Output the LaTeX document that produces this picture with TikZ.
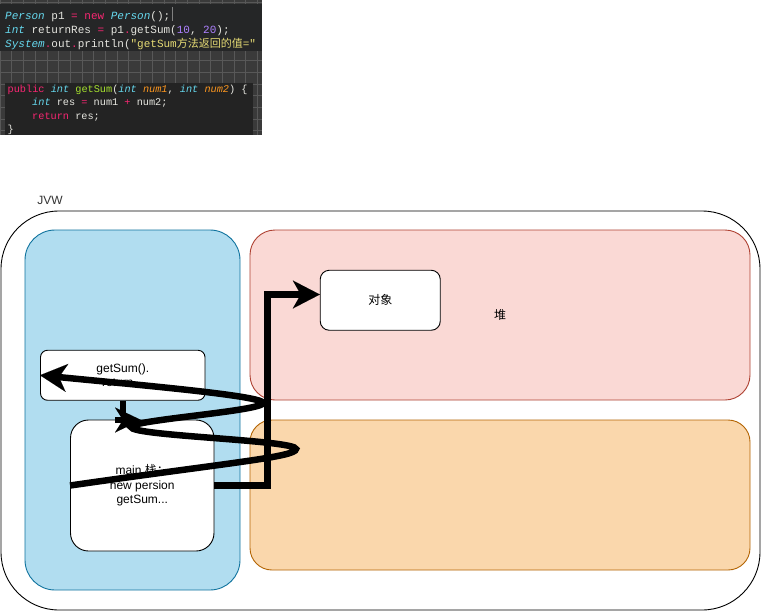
\documentclass[tikz,border=0pt]{standalone}
\usepackage{fontspec}
\setmainfont{Liberation Sans}
\newfontfamily\cjk{Noto Sans CJK SC}
\newfontfamily\codef{Liberation Mono}
\usetikzlibrary{arrows.meta}
\definecolor{bfill}{HTML}{B1DDF0}
\definecolor{bstroke}{HTML}{10739E}
\definecolor{rfill}{HTML}{FAD9D5}
\definecolor{rstroke}{HTML}{AE4132}
\definecolor{ofill}{HTML}{FAD7AC}
\definecolor{ostroke}{HTML}{B46504}
\definecolor{txtgray}{HTML}{333333}
\definecolor{gridbg}{HTML}{3A3A3A}
\definecolor{gridln}{HTML}{585858}
\definecolor{codebg}{HTML}{252627}
\definecolor{codebgb}{HTML}{232323}
\definecolor{mpink}{HTML}{F92672}
\definecolor{mcyan}{HTML}{66D9EF}
\definecolor{mgreen}{HTML}{A6E22E}
\definecolor{morange}{HTML}{FD971F}
\definecolor{mpurple}{HTML}{AE81FF}
\definecolor{myellow}{HTML}{E6DB74}
\definecolor{mfg}{HTML}{E6E6E0}
\newcommand\mkw[1]{\textcolor{mpink}{#1}}
\newcommand\mty[1]{\textcolor{mcyan}{\itshape #1}}
\newcommand\mfn[1]{\textcolor{mgreen}{#1}}
\newcommand\marg[1]{\textcolor{morange}{\itshape #1}}
\newcommand\mnum[1]{\textcolor{mpurple}{#1}}
\newcommand\mstr[1]{\textcolor{myellow}{#1}}
\tikzset{
  rbox/.style={draw, inner sep=0pt, line width=0.9pt},
  lbl/.style={font=\fontsize{12}{14.5}\selectfont, text=black},
  codeA/.style={anchor=base west, inner sep=0pt, text=mfg, font=\codef\fontsize{11}{13}\selectfont},
  codeB/.style={anchor=base west, inner sep=0pt, text=mfg, font=\codef\fontsize{10.25}{12}\selectfont},
  bigline/.style={line width=6.5pt, draw=black},
  headbig/.style={-{Stealth[length=27pt,width=28pt,inset=8pt,line width=0.01pt]}},
  headsmall/.style={-{Stealth[length=26pt,width=25pt,inset=8pt,line width=0.01pt]}}
}
\begin{document}
\begin{tikzpicture}[x=1pt,y=-1pt]
\useasboundingbox (0,0) rectangle (761,611);
\fill[white] (0,0) rectangle (761,611);
% code screenshot
\begin{scope}
\clip (0,0) rectangle (262,135);
\fill[gridbg] (0,0) rectangle (262,135);
\foreach \gx in {0,11.7,...,262} {\draw[gridln, line width=0.6pt] (\gx,0) -- (\gx,135);}
\foreach \gy in {2,13.7,...,135} {\draw[gridln, line width=0.6pt] (0,\gy) -- (262,\gy);}
\fill[codebg] (0,4) rectangle (262,51);
\fill[codebgb] (5,83) rectangle (253,135);
\node[codeA] (c1) at (5,19) {\mty{Person} p1 \mkw{=} \mkw{new} \mty{Person}();};
\draw[gray, line width=0.7pt] (172.5,7) -- (172.5,21);
\node[codeA] (c2) at (5,33) {\mty{int} returnRes \mkw{=} p1\mkw{.}getSum(\mnum{10}, \mnum{20});};
\node[codeA] (c3) at (5,47) {\mty{System}\mkw{.}out\mkw{.}println(\mstr{"getSum{\cjk 方法返回的值}="}};
\node[codeB] (d1) at (7.5,92) {\mkw{public} \mty{int} \mfn{getSum}(\mty{int} \marg{num1}, \mty{int} \marg{num2}) \{};
\node[codeB] (d2) at (32,105.5) {\mty{int} res \mkw{=} num1 \mkw{+} num2;};
\node[codeB] (d3) at (32,119) {\mkw{return} res;};
\node[codeB] (d4) at (7.5,132.5) {\}};
\end{scope}
% JVW diagram
\node[rbox, draw=black, rounded corners=58pt, minimum width=759pt, minimum height=399pt] (jvm) at (380.5,410.5) {};
\node[lbl, text=txtgray] (jvwlabel) at (50,200) {JVW};
\node[rbox, draw=bstroke, fill=bfill, rounded corners=30pt, minimum width=215pt, minimum height=360pt] (stack) at (132.5,410) {};
\node[rbox, draw=rstroke, fill=rfill, rounded corners=25pt, minimum width=500pt, minimum height=170pt, lbl] (heap) at (500,315) {{\cjk 堆}};
\node[rbox, draw=ostroke, fill=ofill, rounded corners=22pt, minimum width=500pt, minimum height=150pt] (other) at (500,495) {};
\node[rbox, fill=white, rounded corners=7pt, minimum width=164.5pt, minimum height=50pt, lbl, align=center] (gs) at (122.75,375.25) {getSum().\\return...};
\node[rbox, fill=white, rounded corners=18pt, minimum width=143.5pt, minimum height=131pt, lbl, align=center] (main) at (142.25,485.5) {main {\cjk 栈：}\\new persion\\getSum...};
\node[rbox, fill=white, rounded corners=9pt, minimum width=120pt, minimum height=60pt, lbl] (obj) at (380.25,300.25) {{\cjk 对象}};
% connectors
\draw[bigline, headbig] (main.east) -- ([xshift=53pt]main.east) |- ([yshift=5.75pt]obj.west);
\draw[bigline, headbig] (main.west) .. controls +(160,-23) and (296,457) .. (296,449)
   .. controls (296,440) and (131,436) .. (131,427)
   .. controls (131,420) and (263,411) .. (263,403)
   .. controls (263,396) and (150,386) .. (gs.west);
\draw[bigline] (gs.south) -- ([yshift=-15pt]gs.south);
\coordinate (tipA) at (141,420);
\draw[bigline, headsmall] ([xshift=-26pt]tipA) -- (tipA);
\end{tikzpicture}
\end{document}
